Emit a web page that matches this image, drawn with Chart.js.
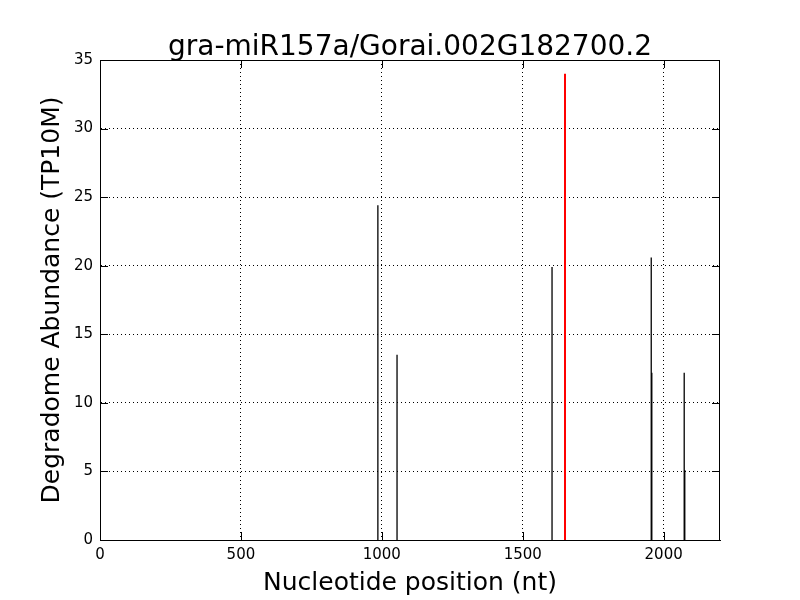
<!DOCTYPE html>
<html>
<head>
<meta charset="utf-8">
<script src="https://cdn.jsdelivr.net/npm/chart.js@4"></script>
<style>
  body { margin: 0; background: #fff; }
  #wrap { width: 800px; height: 600px; }
</style>
</head>
<body>
<div id="wrap"><canvas id="chart" width="800" height="600"></canvas></div>
<script>
// Degradome peaks
const positions = [986, 1054, 1604, 1650, 1956, 1958, 2073, 2075];
const abundance = [24.4, 13.5, 19.9, 34.0, 20.6, 12.2, 12.2, 5.1];
const peakColors = ['#000', '#000', '#000', '#ff0000', '#000', '#000', '#000', '#000'];
const xTicks = [0, 500, 1000, 1500, 2000];
const yTicks = [0, 5, 10, 15, 20, 25, 30, 35];

const FONT = 'DejaVu Sans';

// one two-point line dataset per peak, from 0 up to its abundance
const datasets = positions.map((p, i) => ({
  data: [{ x: p, y: 0 }, { x: p, y: abundance[i] }],
  borderColor: peakColors[i],
  borderWidth: peakColors[i] === '#ff0000' ? 2 : 1.3,
  pointRadius: 0,
  showLine: true,
  fill: false
}));

// inward ticks on all four sides + frame + title, matplotlib classic look
const framePlugin = {
  id: 'frame',
  afterDraw(chart) {
    const { ctx, chartArea: a, scales } = chart;
    ctx.save();
    ctx.strokeStyle = '#000';
    ctx.lineWidth = 1;
    ctx.beginPath();
    xTicks.forEach(v => {
      const px = Math.round(scales.x.getPixelForValue(v)) + 0.5;
      ctx.moveTo(px, a.bottom); ctx.lineTo(px, a.bottom - 8);
      ctx.moveTo(px, a.top); ctx.lineTo(px, a.top + 8);
    });
    yTicks.forEach(v => {
      const py = Math.round(scales.y.getPixelForValue(v)) + 0.5;
      ctx.moveTo(a.left, py); ctx.lineTo(a.left + 8, py);
      ctx.moveTo(a.right, py); ctx.lineTo(a.right - 8, py);
    });
    ctx.stroke();
    ctx.strokeRect(a.left + 0.5, a.top + 0.5, a.right - a.left - 1, a.bottom - a.top);
    ctx.fillStyle = '#000';
    ctx.font = '28px "' + FONT + '"';
    ctx.textAlign = 'center';
    ctx.textBaseline = 'alphabetic';
    ctx.fillText('gra-miR157a/Gorai.002G182700.2', (a.left + a.right) / 2, 55);
    ctx.restore();
  }
};

new Chart(document.getElementById('chart'), {
  type: 'scatter',
  data: { datasets },
  options: {
    responsive: false,
    animation: false,
    layout: { padding: { top: 60, right: 80, left: 0, bottom: 0 } },
    plugins: { legend: { display: false }, tooltip: { enabled: false } },
    scales: {
      x: {
        type: 'linear',
        min: 0, max: 2200,
        afterBuildTicks: s => { s.ticks = xTicks.map(v => ({ value: v })); },
        afterFit: s => { s.height = 60; },
        grid: { color: '#000', lineWidth: 1, drawTicks: false },
        border: { color: '#000', dash: [1, 3] },
        ticks: { color: '#000', font: { family: FONT, size: 15 }, padding: 6, maxRotation: 0,
                 callback: v => String(v) },
        title: { display: true, text: 'Nucleotide position (nt)', color: '#000',
                 font: { family: FONT, size: 25 }, padding: { top: 0, bottom: 2 } }
      },
      y: {
        type: 'linear',
        min: 0, max: 35,
        afterBuildTicks: s => { s.ticks = yTicks.map(v => ({ value: v })); },
        afterFit: s => { s.width = 100; },
        grid: { color: '#000', lineWidth: 1, drawTicks: false },
        border: { color: '#000', dash: [1, 3] },
        ticks: { color: '#000', font: { family: FONT, size: 15 }, padding: 7,
                 callback: v => String(v) },
        title: { display: true, text: 'Degradome Abundance (TP10M)', color: '#000',
                 font: { family: FONT, size: 25 }, padding: { top: 37, bottom: 0 } }
      }
    }
  },
  plugins: [framePlugin]
});
</script>
</body>
</html>
